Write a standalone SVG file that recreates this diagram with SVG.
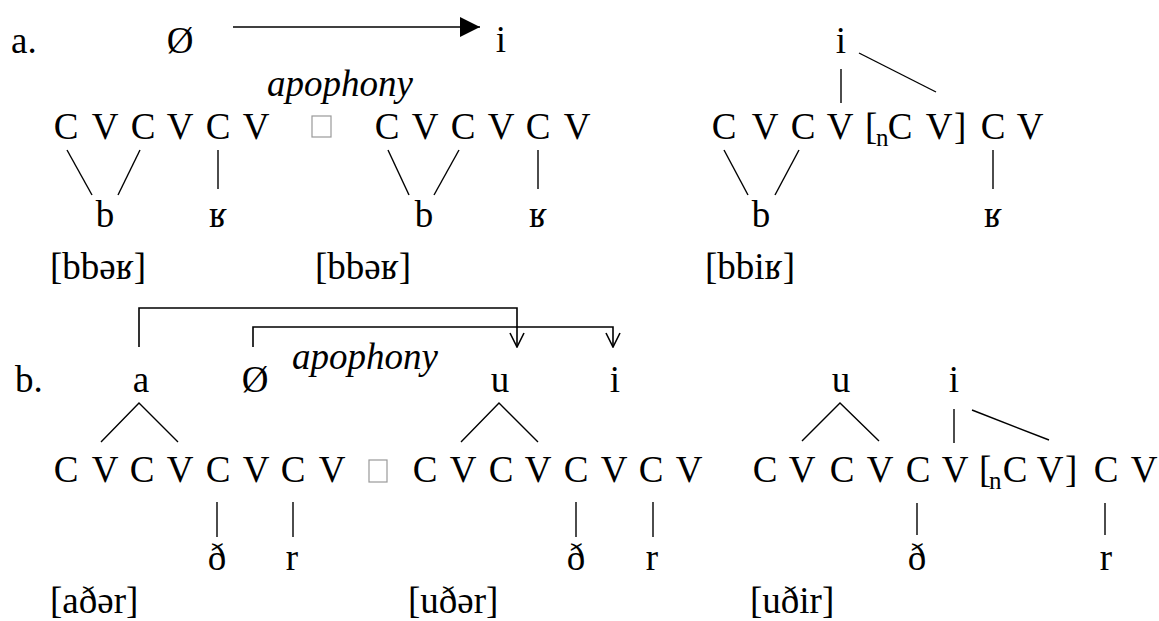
<svg xmlns="http://www.w3.org/2000/svg" width="1159" height="621" viewBox="0 0 1159 621">
<style>
.t{fill:#000;font-size:37px}
.m{text-anchor:middle}
.it{font-style:italic}
.sub{font-size:25px}
.ln{stroke:#000;stroke-width:1.4;fill:none}
.cn{stroke:#000;stroke-width:1.6;fill:none}
.box{fill:#fff;stroke:#999;stroke-width:1.2}
</style>
<defs>
<marker id="tri" viewBox="0 0 20 20" refX="20" refY="10" markerWidth="20" markerHeight="20" markerUnits="userSpaceOnUse" orient="auto"><path d="M0,0 L20,10 L0,20 Z" fill="#000"/></marker>
<marker id="vee" viewBox="0 0 16 16" refX="15" refY="8" markerWidth="16" markerHeight="16" markerUnits="userSpaceOnUse" orient="auto"><path d="M1,1 L15,8 L1,15" fill="none" stroke="#000" stroke-width="1.6"/></marker>
</defs>

<g id="connectors">
<line class="cn" x1="233" y1="27" x2="480" y2="27" marker-end="url(#tri)" stroke-width="2"/>
<path class="cn" d="M139,347 V308 H517 V347" marker-end="url(#vee)"/>
<path class="cn" d="M253,347 V327 H613 V347" marker-end="url(#vee)"/>
</g>

<g id="labels">
<text class="t" style="font-family:'Liberation Serif',serif" x="11" y="53">a.</text>
<text class="t" style="font-family:'Liberation Serif',serif" x="15" y="392">b.</text>
<text class="t it" style="font-family:'Liberation Serif',serif" x="267" y="96">apophony</text>
<text class="t it" style="font-family:'Liberation Serif',serif" x="292" y="369">apophony</text>
</g>

<g id="a1">
<text class="t m" style="font-family:'Liberation Serif',serif" x="180" y="53">Ø</text>
<text class="t m" style="font-family:'Liberation Serif',serif" x="66 105 143 180 218 256" y="139">CVCVCV</text>
<line class="ln" x1="67" y1="150" x2="92" y2="195"/>
<line class="ln" x1="140" y1="150" x2="118" y2="195"/>
<line class="ln" x1="218" y1="150" x2="218" y2="189"/>
<text class="t m" style="font-family:'Liberation Serif',serif" x="105 218" y="227">bʁ</text>
<text class="t" style="font-family:'Liberation Serif',serif" x="50" y="279">[bbəʁ]</text>
</g>

<g id="arrow-a"><rect class="box" x="312" y="116" width="19" height="21"/></g>

<g id="a2">
<text class="t m" style="font-family:'Liberation Serif',serif" x="501" y="52">i</text>
<text class="t m" style="font-family:'Liberation Serif',serif" x="387 425 463 501 538 577" y="139">CVCVCV</text>
<line class="ln" x1="388" y1="150" x2="409" y2="195"/>
<line class="ln" x1="459" y1="150" x2="434" y2="195"/>
<line class="ln" x1="538" y1="150" x2="538" y2="189"/>
<text class="t m" style="font-family:'Liberation Serif',serif" x="424 538" y="227">bʁ</text>
<text class="t" style="font-family:'Liberation Serif',serif" x="315" y="279">[bbəʁ]</text>
</g>

<g id="a3">
<text class="t m" style="font-family:'Liberation Serif',serif" x="841" y="53">i</text>
<line class="ln" x1="841" y1="69" x2="841" y2="103"/>
<line class="ln" x1="859" y1="53" x2="936" y2="92"/>
<text class="t m" style="font-family:'Liberation Serif',serif" x="724 765 803 840" y="139">CVCV</text>
<text class="t" style="font-family:'Liberation Serif',serif" x="865" y="139">[</text>
<text class="t sub" style="font-family:'Liberation Serif',serif" x="876" y="146">n</text>
<text class="t m" style="font-family:'Liberation Serif',serif" x="900 939" y="139">CV</text>
<text class="t" style="font-family:'Liberation Serif',serif" x="954" y="139">]</text>
<text class="t m" style="font-family:'Liberation Serif',serif" x="993 1030" y="139">CV</text>
<line class="ln" x1="724" y1="150" x2="748" y2="195"/>
<line class="ln" x1="799" y1="150" x2="775" y2="195"/>
<line class="ln" x1="993" y1="150" x2="993" y2="189"/>
<text class="t m" style="font-family:'Liberation Serif',serif" x="761 993" y="227">bʁ</text>
<text class="t" style="font-family:'Liberation Serif',serif" x="705" y="279">[bbiʁ]</text>
</g>

<g id="b1">
<text class="t m" style="font-family:'Liberation Serif',serif" x="141" y="392">a</text>
<text class="t m" style="font-family:'Liberation Serif',serif" x="255" y="392">Ø</text>
<polyline class="ln" points="101,442 139,403 178,442"/>
<text class="t m" style="font-family:'Liberation Serif',serif" x="66 105 142 180 218 256 293 332" y="482">CVCVCVCV</text>
<line class="ln" x1="217" y1="502" x2="217" y2="537"/>
<line class="ln" x1="293" y1="502" x2="293" y2="537"/>
<text class="t m" style="font-family:'Liberation Serif',serif" x="217 292" y="570">ðr</text>
<text class="t" style="font-family:'Liberation Serif',serif" x="50" y="613">[aðər]</text>
</g>

<g id="arrow-b"><rect class="box" x="369" y="460" width="18" height="22"/></g>

<g id="b2">
<text class="t m" style="font-family:'Liberation Serif',serif" x="500" y="392">u</text>
<text class="t m" style="font-family:'Liberation Serif',serif" x="615" y="392">i</text>
<polyline class="ln" points="461,442 499,403 538,442"/>
<text class="t m" style="font-family:'Liberation Serif',serif" x="425 463 501 538 576 614 651 689" y="482">CVCVCVCV</text>
<line class="ln" x1="576" y1="502" x2="576" y2="537"/>
<line class="ln" x1="653" y1="502" x2="653" y2="537"/>
<text class="t m" style="font-family:'Liberation Serif',serif" x="576 652" y="570">ðr</text>
<text class="t" style="font-family:'Liberation Serif',serif" x="408" y="613">[uðər]</text>
</g>

<g id="b3">
<text class="t m" style="font-family:'Liberation Serif',serif" x="841" y="392">u</text>
<text class="t m" style="font-family:'Liberation Serif',serif" x="954" y="392">i</text>
<polyline class="ln" points="802,441 840,403 879,441"/>
<line class="ln" x1="954" y1="409" x2="954" y2="443"/>
<line class="ln" x1="972" y1="410" x2="1049" y2="440"/>
<text class="t m" style="font-family:'Liberation Serif',serif" x="765 802 842 880 918 955" y="482">CVCVCV</text>
<text class="t" style="font-family:'Liberation Serif',serif" x="979" y="482">[</text>
<text class="t sub" style="font-family:'Liberation Serif',serif" x="989" y="489">n</text>
<text class="t m" style="font-family:'Liberation Serif',serif" x="1015 1050" y="482">CV</text>
<text class="t" style="font-family:'Liberation Serif',serif" x="1065" y="482">]</text>
<text class="t m" style="font-family:'Liberation Serif',serif" x="1106 1144" y="482">CV</text>
<line class="ln" x1="917" y1="503" x2="917" y2="535"/>
<line class="ln" x1="1105" y1="503" x2="1105" y2="535"/>
<text class="t m" style="font-family:'Liberation Serif',serif" x="917 1106" y="570">ðr</text>
<text class="t" style="font-family:'Liberation Serif',serif" x="750" y="613">[uðir]</text>
</g>
</svg>
